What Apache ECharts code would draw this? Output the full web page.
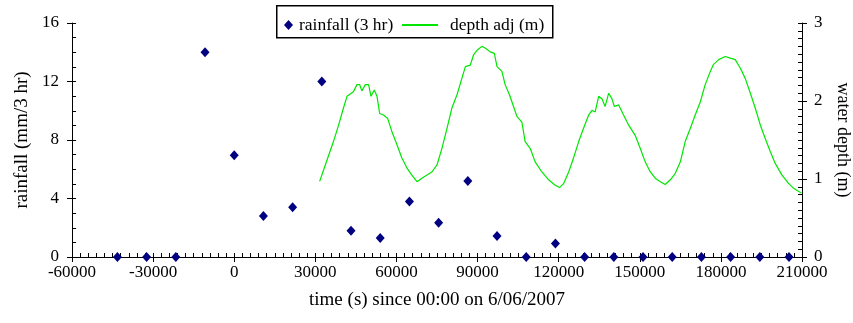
<!DOCTYPE html>
<html><head><meta charset="utf-8">
<script src="https://cdn.jsdelivr.net/npm/echarts@6/dist/echarts.min.js"></script>
<style>html,body{margin:0;padding:0;background:#fff}#c{width:853px;height:323px}</style>
</head><body><div id="c"></div>
<script>
// rainfall (mm / 3 hr), sampled every 3 hours
const rainTimes = [-43200,-32400,-21600,-10800,0,10800,21600,32400,43200,54000,64800,75600,86400,97200,108000,118800,129600,140400,151200,162000,172800,183600,194400,205200];
const rainValues = [0,0,0,14,6.95,2.8,3.4,12,1.8,1.3,3.8,2.35,5.2,1.44,0,0.93,0,0,0,0,0,0,0,0];
// adjusted water depth (m)
const depthTimes = [31600,34300,36700,38600,40400,41700,42900,44100,45400,46400,47200,48500,49700,50600,51800,52800,53800,55200,56700,58300,60200,62000,63900,65700,67600,69400,71300,73100,75000,76800,78700,80500,82400,84200,85500,87300,88500,89800,91600,92800,94700,96200,97200,99000,100200,101800,103300,104600,106400,107600,109500,111300,113800,116300,118700,120300,121800,123700,125500,127400,129200,131100,132300,133500,134800,136000,137200,138500,139700,140600,142200,144000,145900,148300,150200,152000,153900,155700,157600,159400,161300,163100,165000,166800,168700,170500,172400,174200,176100,177300,179200,181600,183500,185300,187200,189000,190900,192700,194600,196400,198300,200100,202600,205100,206900,208800,209800];
const depthValues = [0.97,1.24,1.48,1.69,1.91,2.06,2.09,2.12,2.21,2.21,2.13,2.21,2.21,2.06,2.14,2.06,1.84,1.82,1.78,1.61,1.44,1.27,1.14,1.05,0.965,1.01,1.05,1.09,1.18,1.39,1.65,1.91,2.08,2.29,2.44,2.46,2.59,2.65,2.70,2.68,2.63,2.61,2.44,2.38,2.21,2.08,1.93,1.80,1.73,1.48,1.39,1.22,1.09,0.99,0.92,0.89,0.94,1.09,1.27,1.48,1.65,1.82,1.88,1.86,2.06,2.03,1.93,2.10,2.03,1.93,1.95,1.82,1.69,1.56,1.39,1.22,1.09,1.01,0.965,0.93,0.99,1.07,1.22,1.48,1.65,1.82,1.99,2.21,2.38,2.47,2.53,2.57,2.55,2.53,2.42,2.29,2.10,1.91,1.69,1.52,1.35,1.20,1.05,0.94,0.88,0.84,0.82];
const xTicks = {min:-60000,max:210000,interval:30000};
const leftTicks = {min:0,max:16,interval:4};
const rightTicks = {min:0,max:3,interval:1};

const FONT = '"Liberation Serif","Times New Roman",serif';
const lbl = {color:'#000',fontFamily:FONT,fontSize:17};
const nameLbl = {color:'#000',fontFamily:FONT,fontSize:19};
const axLine = {show:true,onZero:false,lineStyle:{color:'#000',width:1}};
const tk = {color:'#000',width:1};
const plain = v => String(v);
const chart = echarts.init(document.getElementById('c'));
const rainData = rainTimes.map((t,i)=>[t,rainValues[i]]);
const depthData = depthTimes.map((t,i)=>[t,depthValues[i]]);
chart.setOption({
  animation:false,
  backgroundColor:'#fff',
  grid:{left:72,right:51,top:23,bottom:66,containLabel:false,outerBoundsMode:'none'},
  graphic:[{type:'rect',left:276,top:5,shape:{width:276,height:32},style:{fill:'#fff',stroke:'#000',lineWidth:1.5},z:-1}],
  legend:[
    {data:[{name:'rainfall (3 hr)',icon:'diamond'}],left:279,top:11,itemWidth:9,itemHeight:10,textStyle:{...lbl,fontSize:17.5,padding:[0,0,0,1]}},
    {data:[{name:'depth adj (m)',icon:'rect'}],left:397,top:11,itemWidth:36,itemHeight:2,textStyle:{...lbl,fontSize:17.5,padding:[0,0,0,7]}}
  ],
  xAxis:[
    {type:'value',min:xTicks.min,max:xTicks.max,interval:xTicks.interval,axisLine:axLine,
     axisTick:{show:true,inside:true,length:4,lineStyle:tk},
     minorTick:{show:true,splitNumber:10,length:4,lineStyle:tk},
     splitLine:{show:false},axisLabel:{...lbl,margin:7,formatter:plain},
     name:'time (s) since 00:00 on 6/06/2007',nameLocation:'middle',nameGap:34,nameTextStyle:nameLbl},
    {type:'value',min:xTicks.min,max:xTicks.max,interval:xTicks.interval,position:'bottom',
     axisLine:{show:false,onZero:false},axisTick:{show:true,length:5,lineStyle:tk},
     axisLabel:{show:false},splitLine:{show:false}}
  ],
  yAxis:[
    {type:'value',min:leftTicks.min,max:leftTicks.max,interval:leftTicks.interval,position:'left',axisLine:axLine,
     axisTick:{show:true,inside:true,length:4,lineStyle:tk},
     minorTick:{show:true,splitNumber:4,length:4,lineStyle:tk},
     splitLine:{show:false},axisLabel:{...lbl,margin:13,formatter:plain},
     name:'rainfall (mm/3 hr)',nameLocation:'middle',nameGap:35,nameTextStyle:nameLbl},
    {type:'value',min:rightTicks.min,max:rightTicks.max,interval:rightTicks.interval,position:'right',axisLine:axLine,
     axisTick:{show:true,inside:true,length:4,lineStyle:tk},
     minorTick:{show:true,splitNumber:10,length:4,lineStyle:tk},
     splitLine:{show:false},axisLabel:{...lbl,margin:12,formatter:plain},
     name:'water depth (m)',nameLocation:'middle',nameGap:30,nameRotate:-90,nameTextStyle:{...nameLbl,fontSize:18}},
    {type:'value',min:leftTicks.min,max:leftTicks.max,interval:leftTicks.interval,position:'left',
     axisLine:{show:false,onZero:false},axisTick:{show:true,length:5,lineStyle:tk},axisLabel:{show:false},splitLine:{show:false}},
    {type:'value',min:rightTicks.min,max:rightTicks.max,interval:rightTicks.interval,position:'right',
     axisLine:{show:false,onZero:false},axisTick:{show:true,length:5,lineStyle:tk},axisLabel:{show:false},splitLine:{show:false}}
  ],
  series:[
    {name:'rainfall (3 hr)',type:'scatter',xAxisIndex:0,yAxisIndex:0,data:rainData,symbol:'diamond',symbolSize:[9,10],
     itemStyle:{color:'#000080',opacity:1},z:3},
    {name:'depth adj (m)',type:'line',xAxisIndex:0,yAxisIndex:1,data:depthData,symbol:'none',
     lineStyle:{color:'#00e600',width:1.2},itemStyle:{color:'#00e600'},z:2}
  ]
});
</script></body></html>
